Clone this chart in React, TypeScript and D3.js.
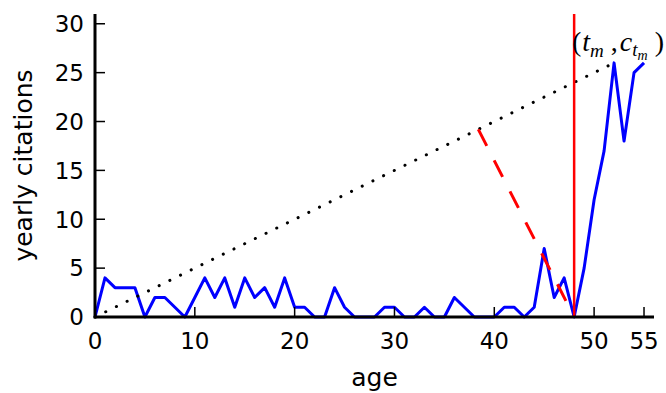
import React from 'react';
import * as d3 from 'd3';

// yearly citations, index = age
const citations = [
  0, 4, 3, 3, 3, 0, 2, 2, 1, 0,
  2, 4, 2, 4, 1, 4, 2, 3, 1, 4,
  1, 1, 0, 0, 3, 1, 0, 0, 0, 1,
  1, 0, 0, 1, 0, 0, 2, 1, 0, 0,
  0, 1, 1, 0, 1, 7, 2, 4, 0, 5,
  12, 17, 26, 18, 25, 26,
];
const xTicks = [0, 10, 20, 30, 40, 50, 55];
const yTicks = [0, 5, 10, 15, 20, 25, 30];
const peak = { age: 52, value: 26 }; // (t_m, c_tm)
const sleepAge = 48; // point furthest from the reference line

const W = 666;
const H = 393;

export default function App() {
  const x = d3.scaleLinear().domain([0, 56]).range([95, 654]);
  const y = d3.scaleLinear().domain([0, 31]).range([317, 14]);

  const line = d3
    .line<number>()
    .x((_, i) => x(i))
    .y((d) => y(d));

  // projection of (sleepAge, 0) onto the line through origin and peak
  const t = (sleepAge * peak.age) / (peak.age * peak.age + peak.value * peak.value);
  const proj = { age: t * peak.age, value: t * peak.value };

  const font = 'DejaVu Sans, sans-serif';
  const mathFont = 'Liberation Serif, DejaVu Serif, serif';

  return (
    <svg
      width={W}
      height={H}
      style={{ position: 'absolute', left: 0, top: 0, background: '#fff' }}
    >
      {/* series */}
      <path d={line(citations) || ''} fill="none" stroke="#0000ff" strokeWidth={3} strokeLinejoin="round" />
      <line
        x1={x(0)}
        y1={y(0)}
        x2={x(peak.age)}
        y2={y(peak.value)}
        stroke="#000"
        strokeWidth={3}
        strokeLinecap="round"
        strokeDasharray="0.1 11.8"
      />
      <line
        x1={x(proj.age)}
        y1={y(proj.value)}
        x2={x(sleepAge)}
        y2={y(0)}
        stroke="#ff0000"
        strokeWidth={3}
        strokeDasharray="18.6 16.2"
      />
      <line x1={x(sleepAge)} y1={y(0)} x2={x(sleepAge)} y2={y(31)} stroke="#ff0000" strokeWidth={2.5} />

      {/* spines */}
      <line x1={x(0)} y1={y(0)} x2={x(56)} y2={y(0)} stroke="#000" strokeWidth={3} />
      <line x1={x(0)} y1={y(0) + 1.5} x2={x(0)} y2={y(31)} stroke="#000" strokeWidth={3} />

      {/* ticks */}
      {xTicks.map((v) => (
        <g key={'x' + v}>
          <line x1={x(v)} y1={y(0)} x2={x(v)} y2={y(0) - 10} stroke="#000" strokeWidth={1.5} />
          <text x={x(v)} y={349} textAnchor="middle" fontFamily={font} fontSize={23}>
            {v}
          </text>
        </g>
      ))}
      {yTicks.map((v) => (
        <g key={'y' + v}>
          <line x1={x(0)} y1={y(v)} x2={x(0) + 10} y2={y(v)} stroke="#000" strokeWidth={1.5} />
          <text x={84} y={y(v)} dy="0.36em" textAnchor="end" fontFamily={font} fontSize={23}>
            {v}
          </text>
        </g>
      ))}

      {/* axis labels */}
      <text x={(x(0) + x(56)) / 2} y={386} textAnchor="middle" fontFamily={font} fontSize={25}>
        age
      </text>
      <text
        transform={`translate(32,${(y(0) + y(31)) / 2}) rotate(-90)`}
        textAnchor="middle"
        fontFamily={font}
        fontSize={25}
      >
        yearly citations
      </text>

      {/* annotation */}
      <text x={572} y={51} fontFamily={mathFont} fontSize={28}>
        <tspan>(</tspan>
        <tspan fontStyle="italic" dx={1}>t</tspan>
        <tspan fontStyle="italic" fontSize={19} dy={6}>m</tspan>
        <tspan dy={-6} dx={7}>,</tspan>
        <tspan fontStyle="italic" dx={2}>c</tspan>
        <tspan fontStyle="italic" fontSize={19} dy={5}>t</tspan>
        <tspan fontStyle="italic" fontSize={14} dy={4}>m</tspan>
        <tspan dy={-9} dx={7}>)</tspan>
      </text>
    </svg>
  );
}
